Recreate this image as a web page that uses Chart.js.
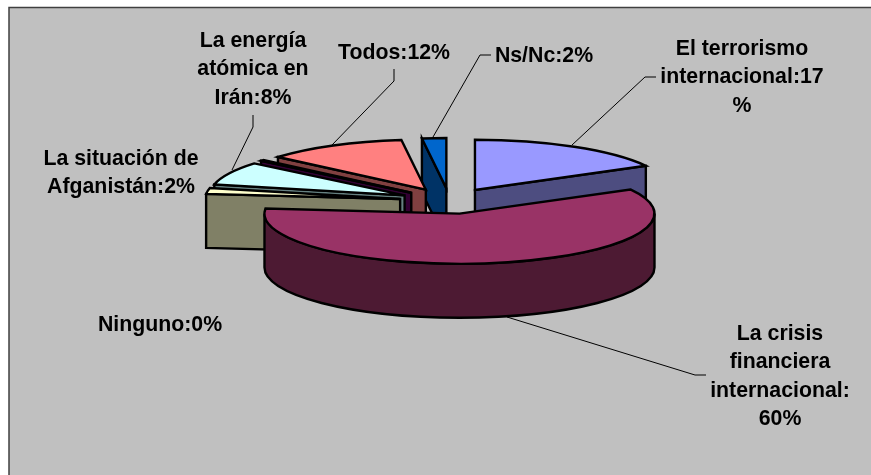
<!DOCTYPE html>
<html>
<head>
<meta charset="utf-8">
<script src="https://cdn.jsdelivr.net/npm/chart.js@4/dist/chart.umd.js"></script>
<style>
  html, body { margin: 0; padding: 0; background: #fff; }
  #pieCanvas { display: block; }
</style>
</head>
<body>
<div style="width:871px;height:475px"><canvas id="pieCanvas"></canvas></div>
<script>
const categories = [
  "El terrorismo internacional",
  "La crisis financiera internacional",
  "La situación de Afganistán",
  "La energía atómica en Irán",
  "Ninguno",
  "Todos",
  "Ns/Nc",
];
const shares = [17, 59.6, 1.9, 7.5, 0.3, 11.7, 2];

const topColors = ["#9999FF", "#993366", "#FFFFCC", "#CCFFFF", "#660066", "#FF8080", "#0066CC"];
const sideColors = ["#4D4D80", "#4D1A33", "#808066", "#668080", "#330033", "#804040", "#003366"];

// label text, one entry per line
const labelLines = [
  ["El terrorismo", "internacional:17", "%"],
  ["La crisis", "financiera", "internacional:", "60%"],
  ["La situación de", "Afganistán:2%"],
  ["La energía", "atómica en", "Irán:8%"],
  ["Ninguno:0%"],
  ["Todos:12%"],
  ["Ns/Nc:2%"],
];
// centre x and first baseline of each label
const labelX = [742, 780, 121, 253, 160, 394, 544];
const labelY = [55, 340, 165, 47, 331, 59, 62];

const leaderLines = [
  [[572, 145], [645, 77], [656, 77]],
  [[507, 317], [695, 375], [706, 375]],
  null,
  [[232, 170], [253, 127], [253, 115]],
  null,
  [[332, 145], [394, 81], [394, 69]],
  [[433, 137], [480, 55], [491, 55]],
];

const tilt = 0.257;
const depth = 54;
const explode = 50;

function drawSlice(ctx, arc, i) {
  const { x, y, startAngle: s, endAngle: e, outerRadius: r } = arc;
  const mid = (s + e) / 2;
  const vx = x + explode * Math.cos(mid);
  const vy = y + explode * tilt * Math.sin(mid);
  const ry = r * tilt;
  const rim = (a) => [vx + r * Math.cos(a), vy + ry * Math.sin(a)];

  const face = (a) => {
    const p = rim(a);
    ctx.beginPath();
    ctx.moveTo(vx, vy);
    ctx.lineTo(p[0], p[1]);
    ctx.lineTo(p[0], p[1] + depth);
    ctx.lineTo(vx, vy + depth);
    ctx.closePath();
    ctx.fill();
    ctx.stroke();
  };

  ctx.fillStyle = sideColors[i];
  if (Math.cos(s) < 0) face(s);
  if (Math.cos(e) > 0) face(e);

  // outer wall, only the part that faces the viewer
  const a1 = Math.max(s, 0);
  const a2 = Math.min(e, Math.PI);
  if (a2 > a1) {
    ctx.beginPath();
    ctx.ellipse(vx, vy, r, ry, 0, a1, a2);
    ctx.ellipse(vx, vy + depth, r, ry, 0, a2, a1, true);
    ctx.closePath();
    ctx.fill();
    ctx.stroke();
  }

  ctx.fillStyle = topColors[i];
  ctx.beginPath();
  ctx.moveTo(vx, vy);
  ctx.ellipse(vx, vy, r, ry, 0, s, e);
  ctx.closePath();
  ctx.fill();
  ctx.stroke();
}

const pie3d = {
  id: "pie3d",
  beforeDraw(chart) {
    const ctx = chart.ctx;
    ctx.save();
    ctx.fillStyle = "#fff";
    ctx.fillRect(0, 0, chart.width, chart.height);
    ctx.fillStyle = "#C0C0C0";
    ctx.strokeStyle = "#404040";
    ctx.lineWidth = 1.5;
    ctx.fillRect(9, 7.5, chart.width, chart.height);
    ctx.strokeRect(9, 7.5, chart.width, chart.height);
    ctx.restore();
  },
  beforeDatasetsDraw(chart) {
    const ctx = chart.ctx;
    const arcs = chart.getDatasetMeta(0).data;
    ctx.save();
    ctx.strokeStyle = "#000";
    ctx.lineWidth = 2.4;
    ctx.lineJoin = "miter";
    // back to front: first slice, then the rest going round the other way
    drawSlice(ctx, arcs[0], 0);
    for (let i = arcs.length - 1; i > 0; i--) {
      drawSlice(ctx, arcs[i], i);
    }
    ctx.restore();
    return false;
  },
  afterDraw(chart) {
    const ctx = chart.ctx;
    ctx.save();
    ctx.strokeStyle = "#000";
    ctx.lineWidth = 1;
    leaderLines.forEach((line) => {
      if (!line) return;
      ctx.beginPath();
      line.forEach((p, k) => (k ? ctx.lineTo(p[0], p[1]) : ctx.moveTo(p[0], p[1])));
      ctx.stroke();
    });
    ctx.fillStyle = "#000";
    ctx.font = "bold 21.3px 'Liberation Sans'";
    ctx.textAlign = "center";
    ctx.textBaseline = "alphabetic";
    labelLines.forEach((lines, i) => {
      lines.forEach((t, k) => ctx.fillText(t, labelX[i], labelY[i] + k * 28.3));
    });
    ctx.restore();
  },
};

const pieChart = new Chart(document.getElementById("pieCanvas"), {
  type: "pie",
  data: {
    labels: categories,
    datasets: [
      {
        data: shares,
        backgroundColor: topColors,
        borderColor: "#000",
        borderWidth: 2,
      },
    ],
  },
  options: {
    responsive: true,
    maintainAspectRatio: false,
    animation: false,
    radius: 195,
    layout: { padding: { left: 28, bottom: 73 } },
    plugins: { legend: { display: false }, tooltip: { enabled: false } },
  },
  plugins: [pie3d],
});
</script>
</body>
</html>
